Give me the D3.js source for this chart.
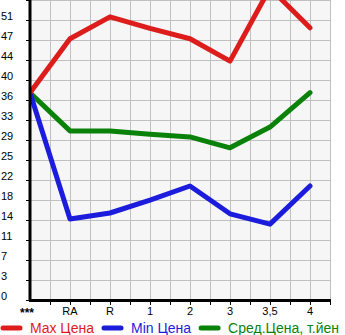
<!DOCTYPE html>
<html lang="ru">
  <head>
    <meta charset="UTF-8" />
    <title>Цены</title>
    <script src="https://d3js.org/d3.v7.min.js"></script>
    <style>
      body { margin: 0; background: #fff; }
      svg { display: block; font-family: "Liberation Sans", Arial, sans-serif; }
    </style>
  </head>
  <body>
    <svg id="chart" width="345" height="335"></svg>
    <script>
      const categories = ["***", "RA", "R", "1", "2", "3", "3,5", "4"];
      const maxPrice = [38, 47.9, 51.9, 49.8, 47.9, 43.8, 57.2, 49.9];
      const minPrice = [38, 14.85, 15.95, 18.3, 20.9, 15.8, 13.9, 20.9];
      const avgPrice = [38, 31.0, 31.0, 30.4, 29.9, 27.9, 31.7, 38];
      const yTicks = [0, 3, 7, 11, 14, 18, 22, 25, 29, 33, 36, 40, 44, 47, 51];
      const seriesNames = ["Max Цена", "Min Цена", "Сред.Цена, т.йен"];
      const seriesColors = ["#dd1c1c", "#1c1cdd", "#0a820a"];

      const svg = d3.select("#chart"),
        margin = { top: 0, right: 15, bottom: 35, left: 30 },
        width = +svg.attr("width") - margin.left - margin.right,
        height = +svg.attr("height") - margin.top - margin.bottom,
        chart = svg
          .append("g")
          .attr("transform", `translate(${margin.left},${margin.top})`);

      const x = d3.scaleLinear().domain([0, 7.5]).range([0, width]);
      const y = d3.scaleLinear().domain([0, 55]).range([height, 0]);

      chart.append("rect")
        .attr("width", width)
        .attr("height", height)
        .attr("fill", "#f6f6f6");

      // grid every half category / every 20px
      const gx = d3.range(0.5, 7.51, 0.5);
      const gy = d3.range(0, 55.01, 55 / 15);
      chart.selectAll(".gx").data(gx).enter().append("line")
        .attr("x1", (d) => x(d) + 0.5).attr("x2", (d) => x(d) + 0.5)
        .attr("y1", 0).attr("y2", height)
        .attr("stroke", "#c0c0c0").attr("stroke-width", 1);
      chart.selectAll(".gy").data(gy).enter().append("line")
        .attr("x1", 0).attr("x2", width)
        .attr("y1", (d) => y(d) + 0.5).attr("y2", (d) => y(d) + 0.5)
        .attr("stroke", "#c0c0c0").attr("stroke-width", 1);

      chart.append("clipPath").attr("id", "plotClip")
        .append("rect").attr("width", width + 3).attr("height", height);

      const line = d3.line()
        .x((d, i) => x(i))
        .y((d) => y(d));

      const lines = chart.append("g").attr("clip-path", "url(#plotClip)");
      [avgPrice, minPrice, maxPrice].forEach((vals, k) => {
        const idx = [2, 1, 0][k];
        lines.append("path")
          .datum(vals)
          .attr("fill", "none")
          .attr("stroke", seriesColors[idx])
          .attr("stroke-width", 5)
          .attr("stroke-linejoin", "round")
          .attr("stroke-linecap", "round")
          .attr("d", line);
      });

      // axes
      chart.append("line")
        .attr("x1", 0).attr("x2", 0).attr("y1", 0).attr("y2", height + 1)
        .attr("stroke", "#000").attr("stroke-width", 3);
      chart.append("line")
        .attr("x1", -1).attr("x2", width + 1).attr("y1", height + 0.5).attr("y2", height + 0.5)
        .attr("stroke", "#000").attr("stroke-width", 3);

      chart.selectAll(".ty").data(gy).enter().append("line")
        .attr("x1", -4).attr("x2", 0)
        .attr("y1", (d) => y(d) + 0.5).attr("y2", (d) => y(d) + 0.5)
        .attr("stroke", "#000");
      chart.selectAll(".tx").data(gx).enter().append("line")
        .attr("x1", (d) => x(d) + 0.5).attr("x2", (d) => x(d) + 0.5)
        .attr("y1", height).attr("y2", height + 5)
        .attr("stroke", "#000");

      svg.selectAll(".yl").data(yTicks).enter().append("text")
        .attr("x", 1)
        .attr("y", (d, i) => margin.top + y(gy[i]))
        .attr("font-size", 11)
        .attr("fill", "#000")
        .text((d) => d);

      chart.selectAll(".xl").data(categories).enter().append("text")
        .attr("x", (d, i) => (i === 0 ? x(i) - 3 : x(i)))
        .attr("y", (d, i) => (i === 0 ? height + 17 : height + 15))
        .attr("text-anchor", "middle")
        .attr("font-size", (d, i) => (i === 0 ? 12 : 11))
        .attr("font-weight", (d, i) => (i === 0 ? "bold" : "normal"))
        .attr("fill", "#000")
        .text((d) => d);

      // legend
      const legend = svg.append("g").attr("transform", "translate(0,328)");
      let lx = 0;
      seriesNames.forEach((name, i) => {
        legend.append("line")
          .attr("x1", lx + 3).attr("x2", lx + 20)
          .attr("y1", 0).attr("y2", 0)
          .attr("stroke", seriesColors[i])
          .attr("stroke-width", 5)
          .attr("stroke-linecap", "round");
        const t = legend.append("text")
          .attr("x", lx + 30)
          .attr("y", 5)
          .attr("font-size", 14)
          .attr("fill", seriesColors[i])
          .text(name);
        lx += 30 + t.node().getComputedTextLength() + 7;
      });
    </script>
  </body>
</html>
